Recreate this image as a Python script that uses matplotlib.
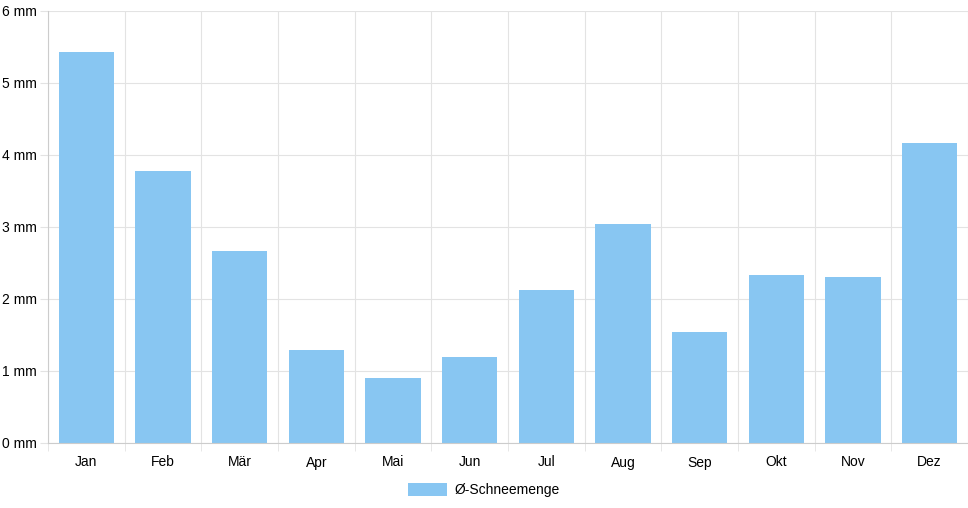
import numpy as np
import matplotlib.pyplot as plt
from matplotlib.patches import Patch

plt.rcParams['font.family'] = ['Liberation Sans', 'DejaVu Sans']

months = ['Jan', 'Feb', 'Mär', 'Apr', 'Mai', 'Jun', 'Jul', 'Aug', 'Sep', 'Okt', 'Nov', 'Dez']
snow = [5.43, 3.78, 2.67, 1.29, 0.90, 1.19, 2.12, 3.04, 1.54, 2.33, 2.31, 4.17]
yticks = [0, 1, 2, 3, 4, 5, 6]

bar_color = '#88c6f2'
grid_color = '#e3e3e3'

fig = plt.figure(figsize=(9.68, 5.08), dpi=100)
ax = fig.add_axes([48/968, 65/508, 920/968, 432/508])

x = np.arange(len(months))
ax.bar(x, snow, width=0.72, color=bar_color, zorder=2)

ax.set_xlim(-0.5, len(months) - 0.5)
ax.set_ylim(0, 6)
ax.set_yticks(yticks)
ax.set_yticklabels([f'{v} mm' for v in yticks], fontsize=10)
ax.set_xticks(x)
ax.set_xticklabels(months, fontsize=10)
ax.set_xticks(np.arange(-0.5, len(months)), minor=True)

ax.tick_params(axis='x', which='major', length=0, pad=9)
ax.tick_params(axis='x', which='minor', length=5.5, color=grid_color)
ax.tick_params(axis='y', length=6, color=grid_color, pad=2)

ax.grid(axis='y', color=grid_color, linewidth=0.8, zorder=0)
ax.grid(axis='x', which='minor', color=grid_color, linewidth=0.8, zorder=0)

for s in ['top', 'right']:
    ax.spines[s].set_visible(False)
ax.spines['left'].set_color('#cccccc')
ax.spines['bottom'].set_color('#cccccc')

handles = [Patch(facecolor=bar_color, label='Ø-Schneemenge')]
fig.legend(handles=handles, loc='center', bbox_to_anchor=(0.5, 18/508), frameon=False,
           fontsize=10, handlelength=2.8, handleheight=1.1, handletextpad=0.6)

fig.savefig('out.png', dpi=100)
